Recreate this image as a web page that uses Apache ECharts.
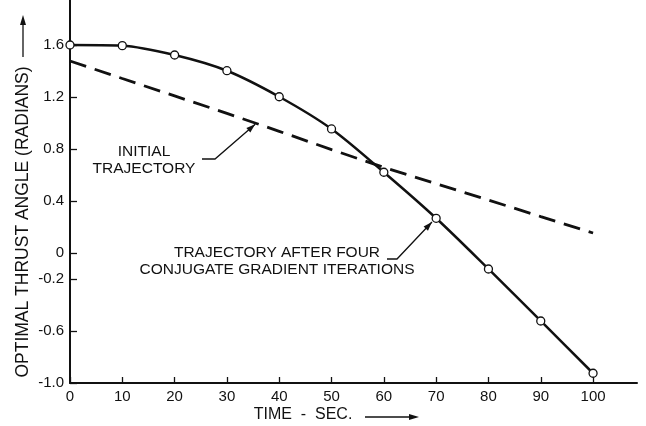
<!DOCTYPE html>
<html>
<head>
<meta charset="utf-8">
<script src="https://cdn.jsdelivr.net/npm/echarts@6/dist/echarts.min.js"></script>
<style>
  html, body { margin: 0; padding: 0; background: #fff; }
  #main { width: 646px; height: 426px; }
</style>
</head>
<body>
<div id="main"></div>
<script>
  // time - sec
  var times = [0, 10, 20, 30, 40, 50, 60, 70, 80, 90, 100];
  // trajectory after four conjugate gradient iterations (circles)
  var finalAngle = [1.60, 1.595, 1.523, 1.402, 1.202, 0.954, 0.621, 0.267, -0.123, -0.523, -0.925];
  // initial trajectory (dashed)
  var initialAngle = [1.477, 1.342, 1.208, 1.074, 0.936, 0.795, 0.659, 0.533, 0.407, 0.280, 0.154];
  // tick labels
  var xTicks = [0, 10, 20, 30, 40, 50, 60, 70, 80, 90, 100];
  var yTicks = [-1.0, -0.6, -0.2, 0, 0.4, 0.8, 1.2, 1.6];

  var ink = '#111';
  var font = '"Liberation Sans", Arial, sans-serif';

  function pairs(xs, ys) {
    return xs.map(function (x, i) { return [x, ys[i]]; });
  }

  // small filled arrow head at tip, pointing away from "from"
  function arrowHead(from, tip, len, half) {
    var dx = tip[0] - from[0], dy = tip[1] - from[1];
    var d = Math.sqrt(dx * dx + dy * dy);
    var ux = dx / d, uy = dy / d;
    var bx = tip[0] - ux * len, by = tip[1] - uy * len;
    return {
      type: 'polygon',
      shape: { points: [tip, [bx - uy * half, by + ux * half], [bx + uy * half, by - ux * half]] },
      style: { fill: ink }
    };
  }

  function label(text, x, y, size, rot) {
    return {
      type: 'text', x: x, y: y, rotation: rot || 0,
      style: {
        text: text, fill: ink, font: size + 'px ' + font,
        textAlign: 'center', textVerticalAlign: 'middle'
      }
    };
  }

  function leader(points) {
    return {
      type: 'polyline',
      shape: { points: points },
      style: { stroke: ink, lineWidth: 1.3, fill: null }
    };
  }

  var chart = echarts.init(document.getElementById('main'), null, { renderer: 'canvas' });

  var option = {
    backgroundColor: '#fff',
    animation: false,
    grid: { left: 70, right: 9, top: 0, bottom: 43, containLabel: false },
    xAxis: {
      type: 'value', min: 0, max: 108.4,
      axisLine: { onZero: false, lineStyle: { color: ink, width: 2 } },
      axisTick: { inside: true, length: 6, customValues: xTicks, lineStyle: { color: ink, width: 1.3 } },
      axisLabel: {
        customValues: xTicks, margin: 6, color: ink, fontSize: 15, fontFamily: font,
        formatter: function (v) { return String(v); }
      },
      splitLine: { show: false }
    },
    yAxis: {
      type: 'value', min: -1.0, max: 1.946,
      axisLine: { onZero: false, lineStyle: { color: ink, width: 2 } },
      axisTick: { inside: true, length: 7, customValues: yTicks, lineStyle: { color: ink, width: 1.3 } },
      axisLabel: {
        customValues: yTicks, margin: 6, color: ink, fontSize: 15, fontFamily: font,
        formatter: function (v) { return v === 0 ? '0' : v.toFixed(1); }
      },
      splitLine: { show: false }
    },
    series: [
      {
        name: 'Initial trajectory',
        type: 'line',
        data: pairs(times, initialAngle),
        symbol: 'none',
        lineStyle: { color: ink, width: 2.8, type: [17, 9] },
        z: 2
      },
      {
        name: 'After four conjugate gradient iterations',
        type: 'line',
        data: pairs(times, finalAngle),
        smooth: 0.3,
        symbol: 'circle',
        symbolSize: 8,
        itemStyle: { color: '#fff', borderColor: ink, borderWidth: 1.3 },
        lineStyle: { color: ink, width: 2.5 },
        z: 3
      }
    ]
  };
  chart.setOption(option);

  // annotation arrow tips, placed in data space
  var tip1 = chart.convertToPixel({ gridIndex: 0 }, [35.4, 0.99]);
  var tip2 = chart.convertToPixel({ gridIndex: 0 }, [69.2, 0.238]);
  var bend1 = [215, 159], bend2 = [397, 259];

  chart.setOption({
    graphic: [
      // y axis name with arrow
      label('OPTIMAL THRUST ANGLE (RADIANS)', 23, 222, 17.5, Math.PI / 2),
      leader([[23, 57], [23, 24]]),
      arrowHead([23, 57], [23, 15], 10, 3),
      // x axis name with arrow
      label('TIME  -  SEC.', 303, 415, 16),
      leader([[365, 417], [410, 417]]),
      arrowHead([365, 417], [419, 417], 10, 3),
      // initial trajectory note
      label('INITIAL', 144, 152, 15.5),
      label('TRAJECTORY', 144, 169, 15.5),
      leader([[202, 159], bend1, tip1]),
      arrowHead(bend1, tip1, 9, 3),
      // final trajectory note
      label('TRAJECTORY AFTER FOUR', 277, 253, 15.5),
      label('CONJUGATE GRADIENT ITERATIONS', 277, 270, 15.5),
      leader([[387, 259], bend2, tip2]),
      arrowHead(bend2, tip2, 9, 3)
    ]
  });
</script>
</body>
</html>
